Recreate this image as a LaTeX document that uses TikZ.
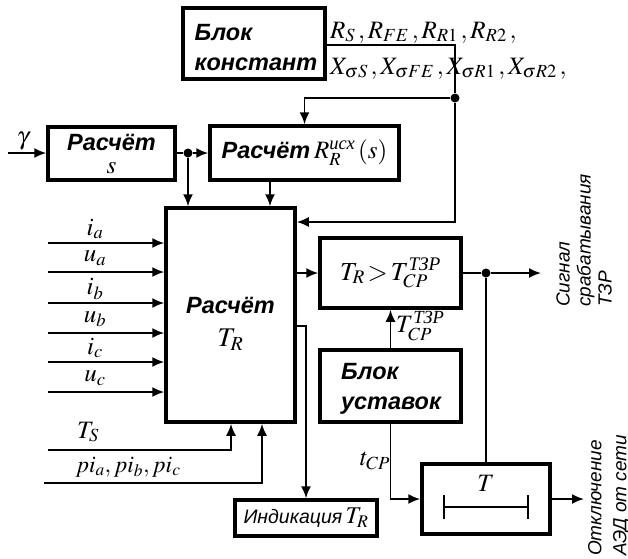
\documentclass[tikz,border=0pt]{standalone}
\usepackage{amsmath}
\usepackage{mathptmx}
\usepackage{fontspec}
\setmainfont{Liberation Serif}
\setsansfont{Liberation Sans}
\usetikzlibrary{arrows.meta}
\newcommand\cyi[1]{\text{\rmfamily\mdseries\itshape #1}}
\begin{document}
\begin{tikzpicture}[x=1pt,y=-1pt,
  box/.style={draw, line width=3.5pt, inner sep=0pt},
  blabel/.style={font=\sffamily\bfseries\itshape\fontsize{23.5}{30}\selectfont, inner sep=0pt},
  mlabel/.style={font=\fontsize{25}{27}\selectfont, inner sep=0pt},
  rlabel/.style={font=\sffamily\itshape\fontsize{19}{21}\selectfont, inner sep=0pt, rotate=90, anchor=west, align=left},
  conn/.style={line width=1.8pt},
  arr/.style={conn, -{Latex[length=12pt,width=10pt]}},
  dot/.style={circle, fill, inner sep=0pt, minimum size=9pt}]
\useasboundingbox (0,0) rectangle (628,558);

% boxes
\node[box, minimum width=142pt, minimum height=71pt] (konst) at (254,43.5) {};
\node[blabel, align=left] (konstt) at (256,48) {Блок\\констант};
\node[box, minimum width=127pt, minimum height=53pt] (rs) at (111.5,153.5) {};
\node[blabel] (rst) at (111.5,142) {Расчёт};
\node[mlabel] (rss) at (111.5,168) {$s$};
\node[box, minimum width=189pt, minimum height=54pt, blabel] (rr) at (304.5,153) {Расчёт\,{\mdseries\fontsize{25}{27}\selectfont$R_R^{\cyi{исх}}\,(s)$}};
\node[box, minimum width=129pt, minimum height=214pt] (tr) at (230.5,315) {};
\node[blabel] (trt) at (230.5,305) {Расчёт};
\node[mlabel, font=\fontsize{27}{29}\selectfont] (trs) at (230.5,340) {$T_R$};
\node[box, minimum width=141pt, minimum height=70pt, font=\fontsize{26}{28}\selectfont] (cmp) at (390.5,273) {$T_R\!>\!T_{CP}^{\cyi{ТЗР}}$};
\node[box, minimum width=141pt, minimum height=72pt] (ust) at (390.5,386) {};
\node[blabel, align=left] (ustt) at (391,389) {Блок\\уставок};
\node[box, minimum width=142pt, minimum height=36pt, font=\sffamily\itshape\fontsize{19.5}{21}\selectfont] (ind) at (306,518) {Индикация\,{\rmfamily\fontsize{24}{26}\selectfont$T_R$}};
\node[box, minimum width=128pt, minimum height=70pt] (tb) at (486,499) {};
\node[mlabel] (tbt) at (486,483) {$T$};
\draw[conn] (444,507) -- (528,507);
\draw[conn] (444,495) -- (444,519);
\draw[conn] (528,495) -- (528,519);

% constants text
\node[mlabel, anchor=base west] (rtxt) at (330,38) {$R_S\,, R_{FE}\,, R_{R1}\,, R_{R2}\,,$};
\node[mlabel, anchor=base west] (xtxt) at (330,74) {$X_{\sigma S}\,, X_{\sigma FE}\,, X_{\sigma R1}\,, X_{\sigma R2}\,,$};

% helper coordinates
\coordinate (kc) at (455,45);
\node[dot] (d1) at (455,98) {};
\coordinate (kin) at (455,222);
\coordinate (g0) at (8,153);
\node[mlabel] (gl) at (23,141) {$\gamma$};
\node[dot] (d2) at (188,153) {};
\coordinate (x188) at (188,0);
\coordinate (x270) at (270,0);
\coordinate (x231) at (231,0);
\coordinate (x262) at (262,0);
\coordinate (y326) at (0,326);
\node[dot] (d3) at (486,273) {};
\coordinate (sig) at (541,273);
\coordinate (off) at (584,499);

% connectors
\draw[conn] (konst.east |- kc) -- (kc) -- (d1);
\draw[arr] (d1) -| (rr.north);
\draw[arr] (d1) -- (kin) -- (kin -| tr.east);
\draw[arr] (g0) -- (rs.west |- g0);
\draw[conn] (rs.east |- d2) -- (d2);
\draw[arr] (d2) -- (rr.west |- d2);
\draw[arr] (d2) -- (x188 |- tr.north);
\draw[arr] (x270 |- rr.south) -- (x270 |- tr.north);

\foreach \n/\y/\lab in {1/243/i_a, 2/272/u_a, 3/303/i_b, 4/333/u_b, 5/362/i_c, 6/392/u_c}{
  \coordinate (in\n) at (48,\y);
  \draw[arr] (in\n) -- (in\n -| tr.west);
  \node[mlabel] (inl\n) at (95,\y-14) {$\lab$};
}
\coordinate (ts) at (48,450);
\draw[arr] (ts) -| (x231 |- tr.south);
\node[mlabel] (tsl) at (88,432) {$T_S$};
\coordinate (pi) at (44,483);
\draw[arr] (pi) -| (x262 |- tr.south);
\node[mlabel, font=\fontsize{23.5}{26}\selectfont] (pil) at (128,467) {$pi_a, pi_b, pi_c$};

\draw[arr] (tr.east |- cmp.west) -- (cmp.west);
\draw[conn] (cmp.east) -- (d3);
\draw[arr] (d3) -- (sig);
\draw[conn] (d3) -- (tb.north);
\draw[arr] (ust.north) -- (cmp.south);
\node[mlabel, anchor=west, font=\fontsize{25}{27}\selectfont] (tcp) at (396,326) {$T_{CP}^{\cyi{ТЗР}}$};
\draw[arr] (tr.east |- y326) -| (ind.north);
\draw[arr] (ust.south) |- (tb.west);
\node[mlabel] (tcpl) at (375,461) {$t_{CP}$};
\draw[arr] (tb.east) -- (off);

% rotated outputs
\node[rlabel] (sigt) at (584,307) {Сигнал\\срабатывания\\ТЗР};
\node[rlabel, font=\sffamily\itshape\fontsize{19}{25}\selectfont] (offt) at (609,556) {Отключение\\АЭД от сети};
\end{tikzpicture}
\end{document}
